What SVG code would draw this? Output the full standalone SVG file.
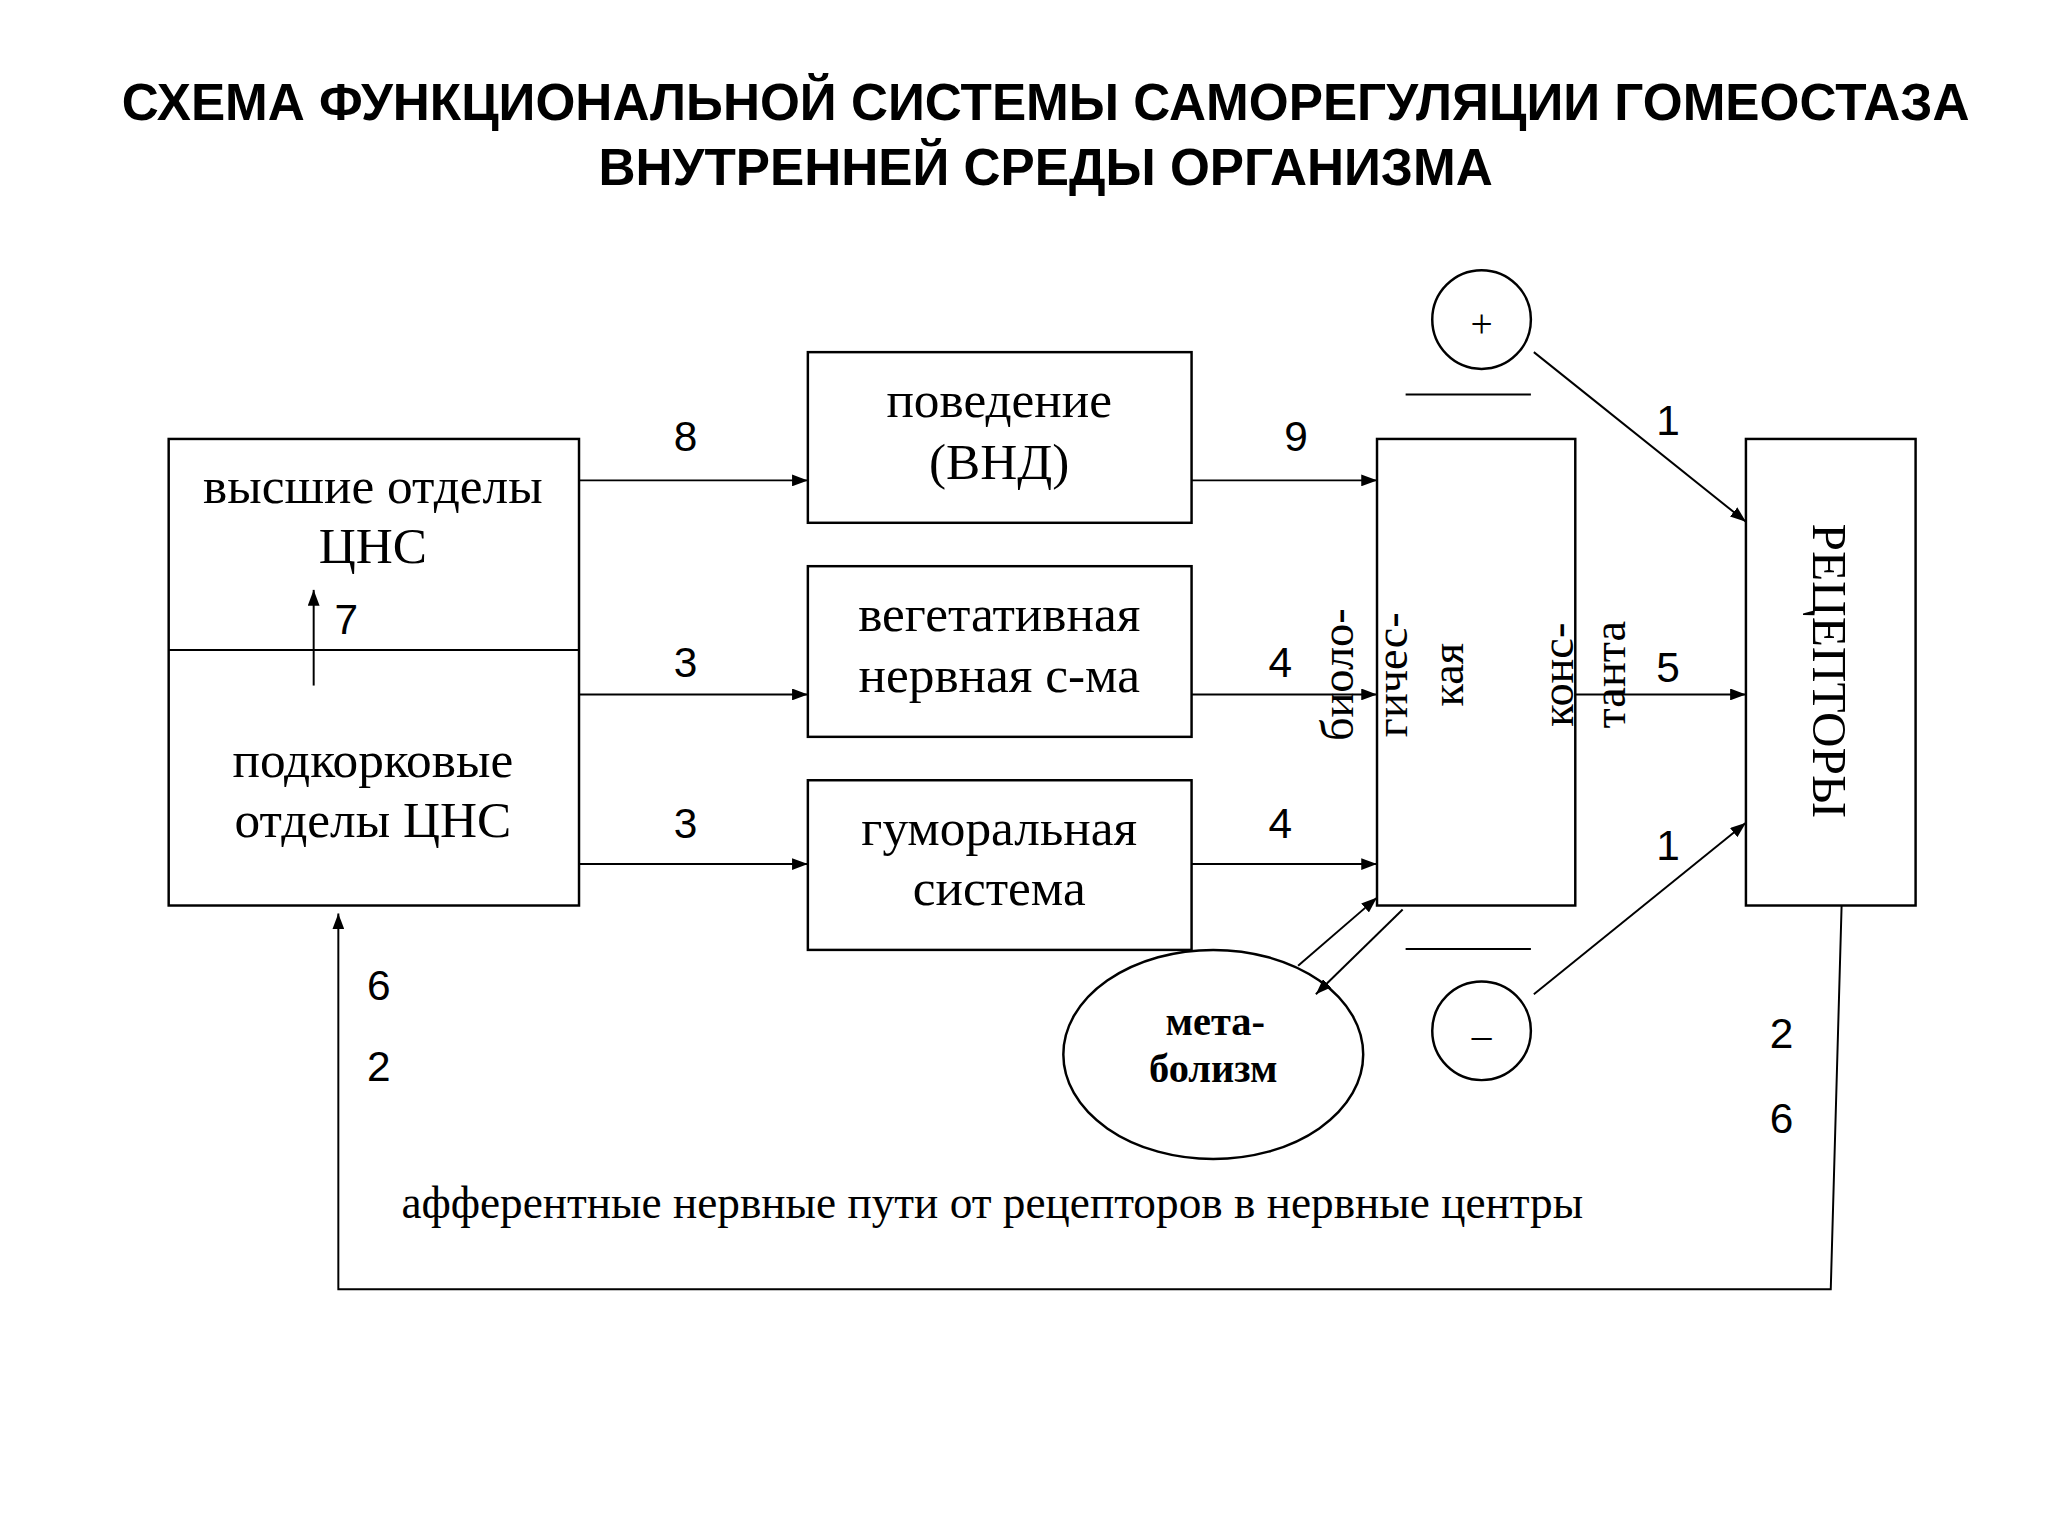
<svg xmlns="http://www.w3.org/2000/svg" width="2048" height="1536" viewBox="0 0 2048 1536">
<defs>
<marker id="ahl" markerWidth="16" markerHeight="12" refX="16" refY="6" orient="auto" markerUnits="userSpaceOnUse" viewBox="0 0 16 12"><path d="M0,0 L16,6 L0,12 z" fill="#000"/></marker>
<style>
rect,ellipse,circle{fill:#fff;stroke:#000;stroke-width:2.5}
.c line,.c polyline{stroke:#000;stroke-width:2;fill:none}
.a{marker-end:url(#ahl)}
.t{font-family:"Liberation Serif","DejaVu Serif",serif;font-size:52px;text-anchor:middle;dominant-baseline:central}
.v{font-family:"Liberation Serif","DejaVu Serif",serif;font-size:47px;text-anchor:middle}
.n{font-family:"Liberation Sans",Arial,sans-serif;font-size:43px;text-anchor:middle;dominant-baseline:central}
.h{font-family:"Liberation Sans",Arial,sans-serif;font-size:52px;font-weight:bold;text-anchor:middle}
</style>
</defs>
<rect x="0" y="0" width="2048" height="1536" style="fill:#fff;stroke:none"/>
<g transform="scale(0.9864)">
<text class="h" x="1060" y="122">СХЕМА ФУНКЦИОНАЛЬНОЙ СИСТЕМЫ САМОРЕГУЛЯЦИИ ГОМЕОСТАЗА</text>
<text class="h" x="1060" y="188">ВНУТРЕННЕЙ СРЕДЫ ОРГАНИЗМА</text>

<g id="cns">
<rect x="171" y="445" width="416" height="473"/>
<line x1="171" y1="659" x2="587" y2="659" style="stroke:#000;stroke-width:2"/>
<text class="t" x="378" y="492">высшие отделы</text>
<text class="t" x="378" y="553">ЦНС</text>
<text class="t" x="378" y="770">подкорковые</text>
<text class="t" x="378" y="831">отделы ЦНС</text>
</g>
<g id="behavior"><rect x="819" y="357" width="389" height="173"/>
<text class="t" x="1013" y="405">поведение</text><text class="t" x="1013" y="468">(ВНД)</text></g>
<g id="veg"><rect x="819" y="574" width="389" height="173"/>
<text class="t" x="1013" y="622">вегетативная</text><text class="t" x="1013" y="684">нервная с-ма</text></g>
<g id="hum"><rect x="819" y="791" width="389" height="172"/>
<text class="t" x="1013" y="839">гуморальная</text><text class="t" x="1013" y="900">система</text></g>
<g id="bio"><rect x="1396" y="445" width="201" height="473"/>
<text class="v" transform="translate(1372,684) rotate(-90)">биоло-</text>
<text class="v" transform="translate(1426,684) rotate(-90)">гичес-</text>
<text class="v" transform="translate(1483,684) rotate(-90)">кая</text>
<text class="v" transform="translate(1595,684) rotate(-90)">конс-</text>
<text class="v" transform="translate(1647,684) rotate(-90)">танта</text>
</g>
<g id="receptors"><rect x="1770" y="445" width="172" height="473"/>
<text class="v" transform="translate(1838,680) rotate(90)" style="font-size:50px">РЕЦЕПТОРЫ</text></g>
<g id="plus"><circle cx="1502" cy="324" r="50"/><text class="t" x="1502" y="328" style="font-size:40px">+</text></g>
<g id="minus"><circle cx="1502" cy="1045" r="50"/><text class="t" x="1502" y="1049" style="font-size:40px">–</text></g>
<g id="metab"><ellipse cx="1230" cy="1069" rx="152" ry="106"/>
<text class="t" x="1232" y="1036" style="font-weight:bold;font-size:41px">мета-</text>
<text class="t" x="1230" y="1083" style="font-weight:bold;font-size:41px">болизм</text></g>

<g class="c">
<line class="a" x1="587" y1="487" x2="819" y2="487"/>
<line class="a" x1="587" y1="704" x2="819" y2="704"/>
<line class="a" x1="587" y1="876" x2="819" y2="876"/>
<line class="a" x1="1208" y1="487" x2="1396" y2="487"/>
<line class="a" x1="1208" y1="704" x2="1396" y2="704"/>
<line class="a" x1="1208" y1="876" x2="1396" y2="876"/>
<line class="a" x1="1597" y1="704" x2="1770" y2="704"/>
<line class="a" x1="318" y1="695" x2="318" y2="598"/>
<line class="a" x1="1555" y1="357" x2="1770" y2="529"/>
<line class="a" x1="1555" y1="1008" x2="1770" y2="834"/>
<line class="a" x1="1316" y1="979" x2="1396" y2="910"/>
<line class="a" x1="1422" y1="922" x2="1334" y2="1008"/>
<line x1="1425" y1="400" x2="1552" y2="400"/>
<line x1="1425" y1="962" x2="1552" y2="962"/>
<polyline class="a" points="1867,918 1856,1307 343,1307 343,926"/>
</g>

<g id="labels">
<text class="n" x="695" y="443">8</text>
<text class="n" x="695" y="672">3</text>
<text class="n" x="695" y="835">3</text>
<text class="n" x="351" y="628">7</text>
<text class="n" x="1314" y="443">9</text>
<text class="n" x="1298" y="672">4</text>
<text class="n" x="1298" y="835">4</text>
<text class="n" x="1691" y="677">5</text>
<text class="n" x="1691" y="426">1</text>
<text class="n" x="1691" y="857">1</text>
<text class="n" x="384" y="999">6</text>
<text class="n" x="384" y="1081">2</text>
<text class="n" x="1806" y="1048">2</text>
<text class="n" x="1806" y="1134">6</text>
<text class="t" x="1006" y="1220" textLength="1198" lengthAdjust="spacingAndGlyphs" style="font-size:46px">афферентные нервные пути от рецепторов в нервные центры</text>
</g>
</g>
</svg>
